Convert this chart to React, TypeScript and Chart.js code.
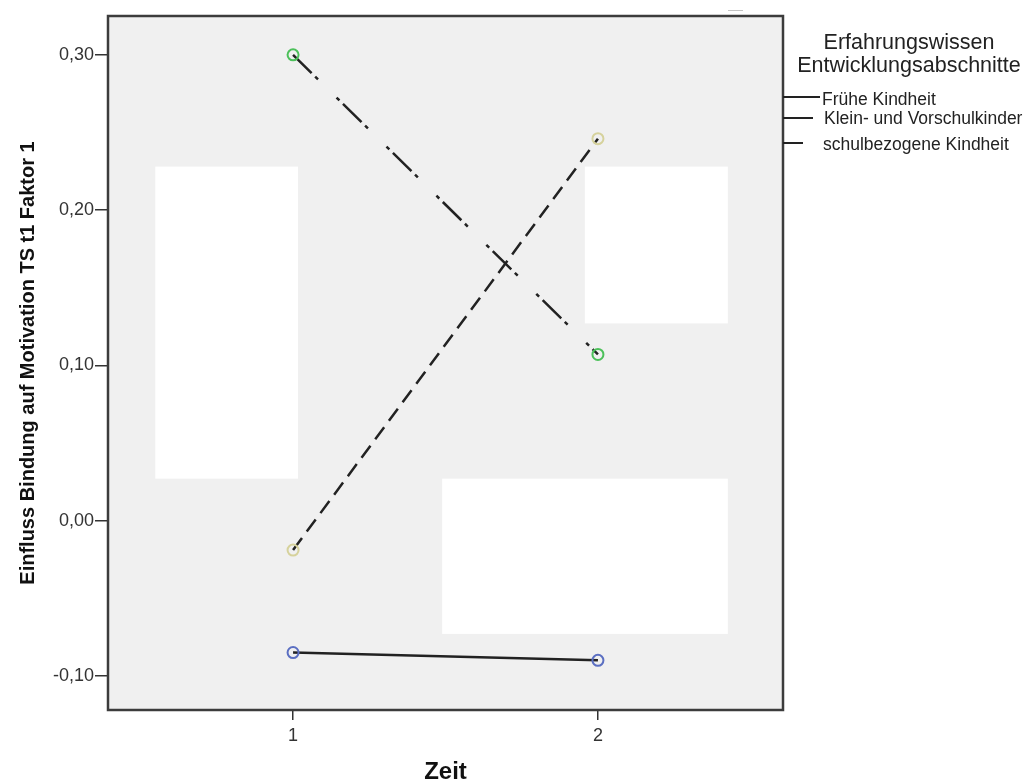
import React, { useEffect, useRef } from "react";
import { Chart, registerables } from "chart.js";

Chart.register(...registerables);

const timepoints = [1, 2];
const xTickValues = [1, 2];
const yTickValues = [-0.1, 0, 0.1, 0.2, 0.3];

const seriesNames = ["Frühe Kindheit", "Klein- und Vorschulkinder", "schulbezogene Kindheit"];
const fruehe = [-0.085, -0.09];
const klein = [-0.019, 0.246];
const schul = [0.3, 0.107];

const legendTitle = ["Erfahrungswissen", "Entwicklungsabschnitte"];
const yTitle = "Einfluss Bindung auf Motivation TS t1 Faktor 1";
const xTitle = "Zeit";

// white cover boxes present in the reference, in data units [x0, x1, y0, y1]
const coverBoxes = [
  [0.548, 1.016, 0.027, 0.228],
  [1.957, 2.426, 0.127, 0.228],
  [1.489, 2.426, -0.073, 0.027],
];

const FONT = "'Liberation Sans', Arial, sans-serif";

export default function App() {
  const ref = useRef<HTMLCanvasElement | null>(null);
  useEffect(() => {
    document.body.style.margin = "0";
    const canvas = ref.current!;
    const mk = (vals: number[]) => timepoints.map((t, i) => ({ x: t, y: vals[i] }));
    const bgPlugin = {
      id: "bgPlugin",
      beforeDraw(chart: any) {
        const { ctx, chartArea: a } = chart;
        ctx.save();
        ctx.fillStyle = "#ffffff";
        ctx.fillRect(0, 0, chart.width, chart.height);
        ctx.fillStyle = "#f0f0f0";
        ctx.fillRect(a.left, a.top, a.right - a.left, a.bottom - a.top);
        ctx.restore();
      },
      beforeDatasetsDraw(chart: any) {
        const { ctx } = chart;
        const xs = chart.scales.x, ys = chart.scales.y;
        ctx.save();
        ctx.fillStyle = "#ffffff";
        coverBoxes.forEach(([x0, x1, y0, y1]) => {
          const px0 = xs.getPixelForValue(x0), px1 = xs.getPixelForValue(x1);
          const py0 = ys.getPixelForValue(y1), py1 = ys.getPixelForValue(y0);
          ctx.fillRect(px0, py0, px1 - px0, py1 - py0);
        });
        ctx.restore();
      },
      afterDatasetsDraw(chart: any) {
        const { ctx, chartArea: a } = chart;
        ctx.save();
        ctx.strokeStyle = "#3c3c3c";
        ctx.lineWidth = 2.5;
        ctx.strokeRect(a.left, a.top, a.right - a.left, a.bottom - a.top);
        ctx.restore();
      },
      afterDraw(chart: any) {
        const { ctx, chartArea: a } = chart;
        ctx.save();
        // faint remnant dash above the frame
        ctx.strokeStyle = "#c4c4c4";
        ctx.lineWidth = 1;
        ctx.beginPath();
        ctx.moveTo(728, 10.5);
        ctx.lineTo(743, 10.5);
        ctx.stroke();

        ctx.fillStyle = "#222";
        ctx.textAlign = "center";
        ctx.textBaseline = "middle";
        ctx.font = `21.5px ${FONT}`;
        ctx.fillText(legendTitle[0], 909, 43);
        ctx.fillText(legendTitle[1], 909, 66);
        ctx.textAlign = "left";
        ctx.font = `17.5px ${FONT}`;
        const ys = [97, 118, 143];
        const ty = [100, 119, 145];
        const lens = [37, 30, 20];
        const tx = [822, 824, 823];
        seriesNames.forEach((n, i) => {
          ctx.strokeStyle = "#222";
          ctx.lineWidth = 2;
          ctx.beginPath();
          ctx.moveTo(a.right, ys[i]);
          ctx.lineTo(a.right + lens[i], ys[i]);
          ctx.stroke();
          ctx.fillText(n, tx[i], ty[i]);
        });
        ctx.restore();
      },
    };
    const common = {
      borderColor: "#222",
      borderWidth: 2.5,
      pointRadius: 5.5,
      pointBorderWidth: 2,
      pointBackgroundColor: "rgba(0,0,0,0)",
    };
    const chart = new Chart(canvas, {
      type: "line",
      data: {
        datasets: [
          { ...common, label: seriesNames[0], data: mk(fruehe), pointBorderColor: "#5b6fc2" },
          { ...common, label: seriesNames[1], data: mk(klein), borderDash: [15, 8], pointBorderColor: "#d6d29c" },
          {
            ...common,
            label: seriesNames[2],
            data: mk(schul),
            borderDash: [26, 5, 4, 26, 4, 5],
            pointBorderColor: "#4cc05a",
          },
        ],
      },
      options: {
        animation: false,
        responsive: false,
        maintainAspectRatio: false,
        layout: { padding: { top: 16, right: 251, left: 0, bottom: 0 } },
        plugins: { legend: { display: false }, tooltip: { enabled: false } },
        scales: {
          x: {
            type: "linear",
            min: 0.393,
            max: 2.607,
            afterBuildTicks: (s: any) => {
              s.ticks = xTickValues.map((v) => ({ value: v }));
            },
            afterFit: (s: any) => {
              s.height = 72;
            },
            border: { display: false },
            grid: { display: true, drawOnChartArea: false, drawTicks: true, tickLength: 10, color: "#333", lineWidth: 1.5 },
            ticks: { color: "#333", font: { family: FONT, size: 18 }, padding: 5, callback: (v: any) => String(v) },
            title: {
              display: true,
              text: xTitle,
              color: "#111",
              font: { family: FONT, size: 24, weight: "bold", lineHeight: 0.8 },
              padding: 0,
            },
          },
          y: {
            type: "linear",
            min: -0.122,
            max: 0.325,
            afterBuildTicks: (s: any) => {
              s.ticks = yTickValues.map((v) => ({ value: v }));
            },
            afterFit: (s: any) => {
              s.width = 108;
            },
            border: { display: false },
            grid: { display: true, drawOnChartArea: false, drawTicks: true, tickLength: 13, color: "#333", lineWidth: 1.5 },
            ticks: {
              color: "#333",
              font: { family: FONT, size: 18 },
              padding: 1,
              callback: (v: any) => Number(v).toFixed(2).replace(".", ","),
            },
            title: {
              display: true,
              text: yTitle,
              color: "#111",
              font: { family: FONT, size: 20, weight: "bold", lineHeight: 1.2 },
              padding: { top: 16, bottom: 0 },
            },
          },
        },
      },
      plugins: [bgPlugin],
    } as any);
    return () => chart.destroy();
  }, []);
  return (
    <div style={{ width: 1034, height: 782 }}>
      <canvas ref={ref} width={1034} height={782} style={{ display: "block" }} />
    </div>
  );
}
